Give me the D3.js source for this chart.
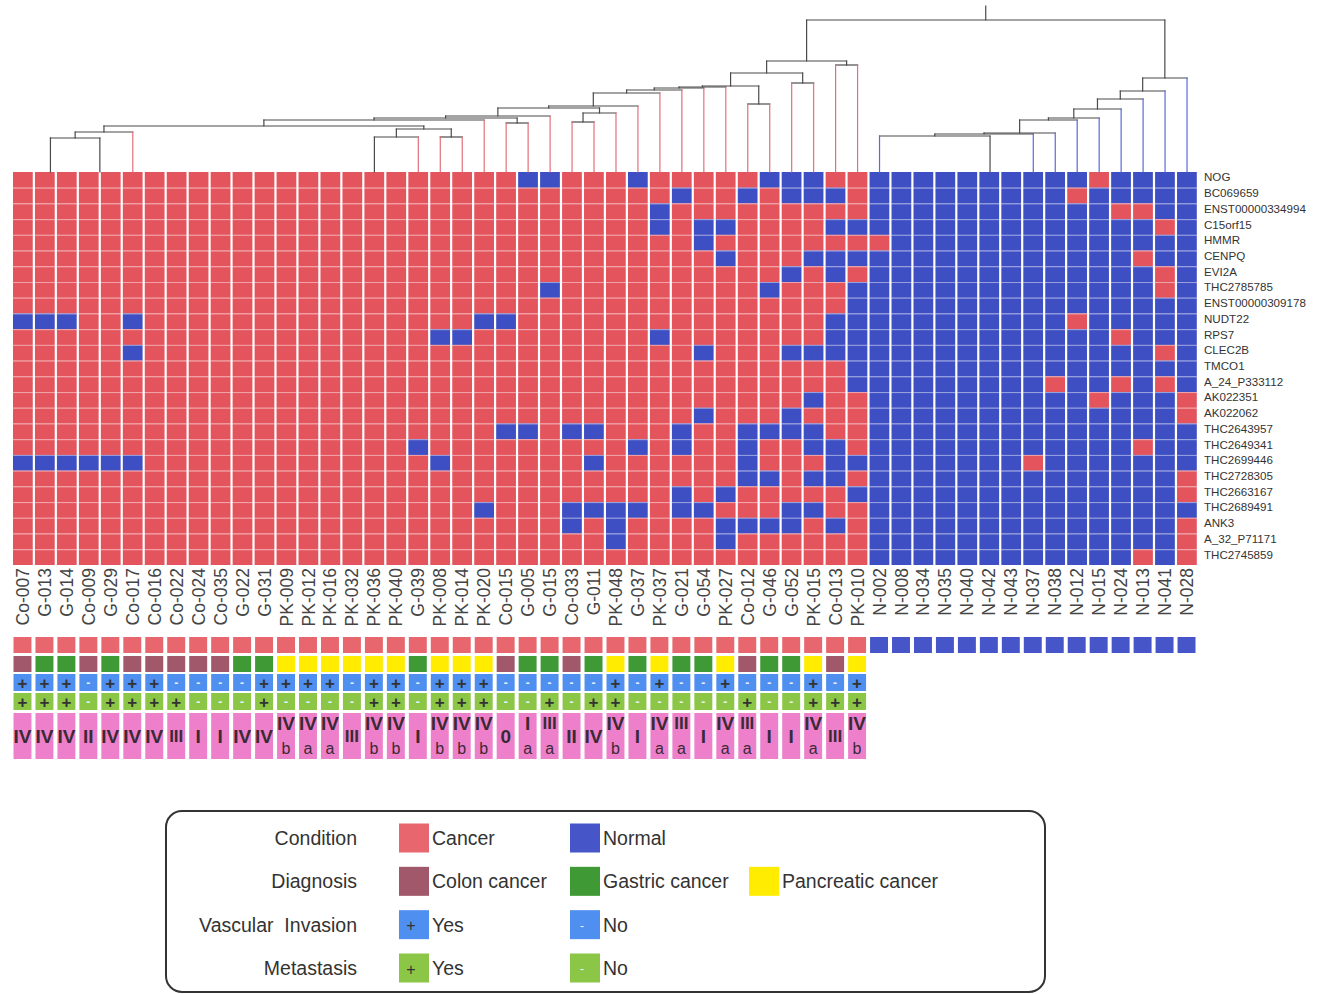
<!DOCTYPE html>
<html><head><meta charset="utf-8">
<script src="https://cdn.jsdelivr.net/npm/d3@7"></script>
<style>
body{margin:0;background:#fff}
svg{display:block}
text{font-family:"Liberation Sans",Arial,Helvetica,sans-serif}
</style>
</head><body>
<svg id="c" width="1324" height="994"></svg>
<script>
// ---------------- DATA ----------------
const samples = ["Co-007","G-013","G-014","Co-009","G-029","Co-017","Co-016","Co-022","Co-024","Co-035","G-022","G-031",
 "PK-009","PK-012","PK-016","PK-032","PK-036","PK-040","G-039","PK-008","PK-014","PK-020","Co-015","G-005","G-015",
 "Co-033","G-011","PK-048","G-037","PK-037","G-021","G-054","PK-027","Co-012","G-046","G-052","PK-015","Co-013","PK-010",
 "N-002","N-008","N-034","N-035","N-040","N-042","N-043","N-037","N-038","N-012","N-015","N-024","N-013","N-041","N-028"];

const genes = ["NOG","BC069659","ENST00000334994","C15orf15","HMMR","CENPQ","EVI2A","THC2785785","ENST00000309178",
 "NUDT22","RPS7","CLEC2B","TMCO1","A_24_P333112","AK022351","AK022062","THC2643957","THC2649341","THC2699446",
 "THC2728305","THC2663167","THC2689491","ANK3","A_32_P71171","THC2745859"];

// 1 = high (red), 0 = low (blue); one string per gene, one char per sample
const expr = [
 "1111111111 1111111111 1110011101 1111000110 0000000001 0000",
 "1111111111 1111111111 1111111111 0110100010 0000000010 0000",
 "1111111111 1111111111 1111111110 1111111110 0000000000 1100",
 "1111111111 1111111111 1111111110 1001111000 0000000000 0010",
 "1111111111 1111111111 1111111111 1011111111 0000000000 0000",
 "1111111111 1111111111 1111111111 1101110000 0000000000 0100",
 "1111111111 1111111111 1111111111 1111101010 0000000000 0010",
 "1111111111 1111111111 1111011111 1111011100 0000000000 0010",
 "1111111111 1111111111 1111111111 1111111100 0000000000 0000",
 "0001101111 1111111111 1001111111 1111111000 0000000010 0000",
 "1111111111 1111111110 0111111110 1111111000 0000000000 1000",
 "1111101111 1111111111 1111111111 1011100000 0000000000 0010",
 "1111111111 1111111111 1111111111 1111111100 0000000000 0000",
 "1111111111 1111111111 1111111111 1111111100 0000000100 1010",
 "1111111111 1111111111 1111111111 1111110110 0000000001 0001",
 "1111111111 1111111111 1111111111 1011101110 0000000000 0001",
 "1111111111 1111111111 1100100111 0110000110 0000000000 0000",
 "1111111111 1111111101 1111111101 0110110010 0000000000 0100",
 "0000001111 1111111110 1111110111 1110111000 0000001000 0000",
 "1111111111 1111111111 1111111111 1110010010 0000000000 0001",
 "1111111111 1111111111 1111111111 0101111100 0000000000 0001",
 "1111111111 1111111111 1011100001 0011100110 0000000000 0000",
 "1111111111 1111111111 1111101011 1100001010 0000000000 0001",
 "1111111111 1111111111 1111111011 1101111110 0000000000 0001",
 "1111111111 1111111111 1111111111 1111111110 0000000000 0101"
].map(s => s.replace(/ /g, ""));

// clinical annotation (cancer samples only, same order)
const vascular = ["+","+","+","-","+","+","+","-","-","-","-","+","+","+","+","-","+","+","-",
 "+","+","+","-","-","-","-","-","+","-","+","-","-","+","-","-","-","+","-","+"];
const metastasis = ["+","+","+","-","+","+","+","+","-","-","-","+","-","-","-","-","+","+","-",
 "+","+","+","-","-","+","-","+","+","-","-","-","-","-","+","-","-","+","+","+"];
const stage = ["IV","IV","IV","II","IV","IV","IV","III","I","I","IV","IV","IV","IV","IV","III","IV","IV","I",
 "IV","IV","IV","0","I","III","II","IV","IV","I","IV","III","I","IV","III","I","I","IV","III","IV"];
const stageSub = ["","","","","","","","","","","","","b","a","a","","b","b","",
 "b","b","b","","a","a","","","b","","a","a","","a","a","","","a","","b"];

// hierarchical clustering merges (hclust style: negative = leaf index+1, positive = earlier merge), height
const merges = [
 [-1,-2,0],[1,-3,0],[-4,-5,0],[2,3,34],[4,-6,40],
 [-7,-8,0],[6,-9,0],[7,-10,0],[8,-11,0],[9,-12,0],[10,-13,0],[11,-14,0],[12,-15,0],[13,-16,0],[14,-17,0],[15,-18,0],
 [16,-19,35],[-20,-21,35],[17,18,43],[5,19,46],[20,-22,52],[-23,-24,49],[21,22,54],[23,-25,56],
 [-26,-27,50],[25,-28,59],[24,26,64],[27,-29,66],[28,-30,79],[29,-31,82],[30,-32,84],[31,-33,85],
 [-34,-35,68],[32,33,86],[-36,-37,89],[34,35,99],[-38,-39,107],[36,37,111],
 [-41,-42,0],[39,-43,0],[40,-44,0],[41,-45,0],[42,-46,0],
 [-40,43,36],[44,-47,38],[45,-48,39],[46,-49,52],[47,-50,54],[48,-51,63],[49,-52,73],[50,-53,81],[51,-54,94],
 [38,52,152]
];
const rootTop = 166;

const legendTitles = ["Condition","Diagnosis","Vascular  Invasion","Metastasis"];
const legendEntries = [
 [{k:"cancer",t:"Cancer"},{k:"normal",t:"Normal"}],
 [{k:"colon",t:"Colon cancer"},{k:"gastric",t:"Gastric cancer"},{k:"pancreatic",t:"Pancreatic cancer"}],
 [{k:"viYes",t:"Yes",m:"+"},{k:"viNo",t:"No",m:"-"}],
 [{k:"metYes",t:"Yes",m:"+"},{k:"metNo",t:"No",m:"-"}]
];

// ---------------- STYLE ----------------
const C = {
 hi:"#e4545d", lo:"#3e4fc3",
 cancer:"#e8666d", normal:"#4656c8",
 colon:"#a0586a", gastric:"#3f9a36", pancreatic:"#ffec00",
 viYes:"#4f8ff0", viNo:"#4f8ff0", metYes:"#8cc646", metNo:"#8cc646",
 stage:"#ee80cb", dark:"#4a4a4a", leafRed:"#e0707a", leafBlue:"#5a6ad8"
};

const svg = d3.select("#c");
const x = d3.scaleBand().domain(samples).range([12,1198]);
const y = d3.scaleBand().domain(genes).range([172,565]);
const bw = x.bandwidth(), bh = y.bandwidth();
const heat = d3.scaleOrdinal().domain(["1","0"]).range([C.hi, C.lo]);
const isNormal = s => s.startsWith("N-");
const diag = s => s.startsWith("Co") ? "colon" : s.startsWith("PK") ? "pancreatic" : "gastric";

// ---------------- HEATMAP ----------------
const cells = genes.flatMap((g,r) => samples.map((s,c) => ({g, s, v: expr[r][c]})));
svg.append("g").selectAll("rect").data(cells).join("rect")
 .attr("x", d => x(d.s) + 1).attr("width", bw - 2.2)
 .attr("y", d => y(d.g)).attr("height", bh)
 .attr("fill", d => heat(d.v));
svg.append("g").selectAll("line").data(genes.slice(1)).join("line")
 .attr("x1", 12).attr("x2", 1198)
 .attr("y1", d => y(d) + 0.5).attr("y2", d => y(d) + 0.5)
 .attr("stroke", "#fff").attr("stroke-opacity", 0.45).attr("stroke-width", 1);

// row labels
svg.append("g").selectAll("text").data(genes).join("text")
 .attr("x", 1204).attr("y", d => y(d) + bh/2 - 3)
 .attr("dominant-baseline", "central")
 .attr("font-size", 11.6).attr("fill", "#333").text(d => d);

// column labels
svg.append("g").selectAll("text").data(samples).join("text")
 .attr("transform", d => `translate(${x(d) + bw/2},568) rotate(-90)`)
 .attr("text-anchor", "end").attr("dominant-baseline", "central")
 .attr("font-size", 17.5).attr("fill", "#444").text(d => d);

// ---------------- DENDROGRAM ----------------
const hY = d3.scaleLinear().domain([0, rootTop]).range([172, 6]);
const nodes = [];
const getNode = id => id < 0 ? {x: x(samples[-id-1]) + bw/2, h: 0, leaf: -id-1} : nodes[id-1];
const segs = [];
merges.forEach(([a,b,h]) => {
 const A = getNode(a), B = getNode(b);
 const n = {x: (A.x + B.x)/2, h};
 nodes.push(n);
 if (h > 0) {
  segs.push({x1:A.x, x2:B.x, y1:hY(h), y2:hY(h), c:C.dark});
  [A,B].forEach(ch => segs.push({x1:ch.x, x2:ch.x, y1:hY(h), y2:hY(ch.h),
   c: ch.leaf !== undefined ? (isNormal(samples[ch.leaf]) ? C.leafBlue : C.leafRed) : C.dark}));
 }
});
const root = nodes[nodes.length-1];
segs.push({x1:root.x, x2:root.x, y1:hY(rootTop), y2:hY(root.h), c:C.dark});
svg.append("g").selectAll("line").data(segs).join("line")
 .attr("x1", d => d.x1).attr("x2", d => d.x2).attr("y1", d => d.y1).attr("y2", d => d.y2)
 .attr("stroke", d => d.c).attr("stroke-width", 1.2).attr("stroke-linecap", "square");

// ---------------- ANNOTATION TRACKS ----------------
const cancer = samples.filter(s => !isNormal(s));
const ann = svg.append("g");
const cw = bw - 4;
ann.selectAll(".cond").data(samples).join("rect")
 .attr("x", d => x(d) + 1.5).attr("width", cw).attr("y", 637).attr("height", 16)
 .attr("fill", d => isNormal(d) ? C.normal : C.cancer);
ann.selectAll(".diag").data(cancer).join("rect")
 .attr("x", d => x(d) + 1.5).attr("width", cw).attr("y", 656).attr("height", 16)
 .attr("fill", d => C[diag(d)]);
const pm = (vals, yy, col) => {
 const g = ann.append("g");
 g.selectAll("rect").data(cancer).join("rect")
  .attr("x", d => x(d) + 1.5).attr("width", cw).attr("y", yy).attr("height", 17).attr("fill", col);
 g.selectAll("text").data(cancer).join("text")
  .attr("x", d => x(d) + 1.5 + cw/2).attr("y", yy + 9)
  .attr("text-anchor", "middle").attr("dominant-baseline", "central")
  .attr("font-size", (d,i) => vals[i] === "+" ? 17 : 12)
  .attr("font-weight", "bold")
  .attr("fill", (d,i) => vals[i] === "+" ? "#333" : "#e8f0ff")
  .text((d,i) => vals[i]);
};
pm(vascular, 674, C.viYes);
pm(metastasis, 693, C.metYes);

const sg = ann.append("g");
sg.selectAll("rect").data(cancer).join("rect")
 .attr("x", d => x(d) + 1.5).attr("width", cw).attr("y", 713).attr("height", 46).attr("fill", C.stage);
sg.selectAll(".st").data(cancer).join("text")
 .attr("x", d => x(d) + 1.5 + cw/2)
 .attr("y", (d,i) => stageSub[i] ? 723 : 736)
 .attr("text-anchor", "middle").attr("dominant-baseline", "central")
 .attr("font-size", (d,i) => stage[i] === "III" ? 17 : 19)
 .attr("font-weight", "bold").attr("fill", "#3a2a35")
 .text((d,i) => stage[i]);
sg.selectAll(".sub").data(cancer).join("text")
 .attr("x", d => x(d) + 1.5 + cw/2).attr("y", 748)
 .attr("text-anchor", "middle").attr("dominant-baseline", "central")
 .attr("font-size", 16).attr("fill", "#3a2a35")
 .text((d,i) => stageSub[i]);

// ---------------- LEGEND ----------------
const lg = svg.append("g");
lg.append("rect").attr("x", 166).attr("y", 811).attr("width", 879).attr("height", 181)
 .attr("rx", 16).attr("fill", "none").attr("stroke", "#333").attr("stroke-width", 2);
const rowY = d3.scalePoint().domain(legendTitles).range([838, 968]);
const colX = [399, 570, 749];
legendTitles.forEach((t, r) => {
 const cy = rowY(t);
 lg.append("text").attr("x", 357).attr("y", cy).attr("text-anchor", "end")
  .attr("dominant-baseline", "central").attr("font-size", 19.5).attr("fill", "#333")
  .style("white-space", "pre").text(t);
 legendEntries[r].forEach((e, j) => {
  lg.append("rect").attr("x", colX[j]).attr("y", cy - 14.5).attr("width", 30).attr("height", 29)
   .attr("fill", C[e.k]);
  if (e.m) lg.append("text").attr("x", colX[j] + 12).attr("y", cy + 1).attr("text-anchor", "middle")
   .attr("dominant-baseline", "central").attr("font-size", e.m === "+" ? 16 : 12)
   .attr("fill", e.m === "+" ? "#333" : "#eef").text(e.m);
  lg.append("text").attr("x", colX[j] + 33).attr("y", cy).attr("dominant-baseline", "central")
   .attr("font-size", 19.5).attr("fill", "#333").text(e.t);
 });
});
</script>
</body></html>
